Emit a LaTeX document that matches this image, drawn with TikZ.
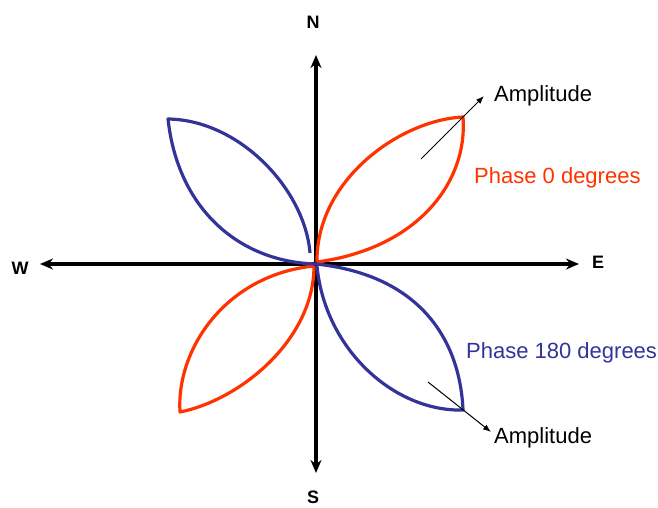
\documentclass[tikz,border=0pt]{standalone}
\usepackage{fontspec}
\setmainfont{Liberation Sans}
\usetikzlibrary{arrows.meta}

\definecolor{phasered}{RGB}{255,51,0}
\definecolor{phaseblue}{RGB}{51,51,153}

\tikzset{
  axis/.style={line width=3.4pt, {Stealth[length=13pt,width=11pt]}-{Stealth[length=13pt,width=11pt]}},
  petal/.style={line width=3.2pt, line join=round},
  amp/.style={line width=1pt, -{Latex[length=8pt,width=6pt]}},
  dirlabel/.style={font=\fontsize{18}{20}\selectfont\bfseries, inner sep=1pt},
  txtlabel/.style={font=\fontsize{22}{26}\selectfont, inner sep=0pt, anchor=west}
}

\begin{document}
\begin{tikzpicture}[x=1pt, y=-1pt]
\useasboundingbox (0,0) rectangle (658,507);

% --- AXES ---
  \coordinate (o) at (316,263);
  \coordinate (ntip) at (316,55);
  \coordinate (stip) at (316,473);
  \coordinate (wtip) at (40,264);
  \coordinate (etip) at (579,264);
  \draw[axis] (wtip) -- (etip);
  \draw[axis] (stip) -- (ntip);

  % compass letters
  \node[dirlabel] (n) at (313,22) {N};
  \node[dirlabel] (s) at (313,497) {S};
  \node[dirlabel] (w) at (20,268) {W};
  \node[dirlabel] (e) at (598,262) {E};

% --- PHASE 0 ---
  \coordinate (rne) at (463,117);
  \coordinate (rsw) at (180,412);
  \draw[petal, phasered] (317,262) .. controls (316,180) and (400,120) .. (rne)
    .. controls (468,180) and (420,248) .. (317,262);
  \draw[petal, phasered] (314,266) .. controls (314,340) and (240,400) .. (rsw)
    .. controls (176,350) and (225,275) .. (314,266);

% --- PHASE 180 ---
  \coordinate (bnw) at (168,119);
  \coordinate (bse) at (463,410);
  \draw[petal, phaseblue] (310,253) .. controls (305,190) and (240,120) .. (bnw)
    .. controls (178,210) and (240,262) .. (316,264);
  \draw[petal, phaseblue] (316,264) .. controls (420,275) and (460,340) .. (bse)
    .. controls (395,412) and (325,350) .. (317,266);

% --- LABELS ---
  \node[txtlabel, phasered] (ph0) at (474,178) {Phase 0 degrees};
  \node[txtlabel, phaseblue] (ph180) at (466,353) {Phase 180 degrees};

  % amplitude arrows
  \node[txtlabel] (amp1) at (494,96) {Amplitude};
  \node[txtlabel] (amp2) at (494,438) {Amplitude};
  \coordinate (a1) at (421,159);
  \coordinate (a1tip) at (484,96);
  \coordinate (a2) at (428,382);
  \coordinate (a2tip) at (491,432);
  \draw[amp] (a1) -- (a1tip);
  \draw[amp] (a2) -- (a2tip);
\end{tikzpicture}
\end{document}
